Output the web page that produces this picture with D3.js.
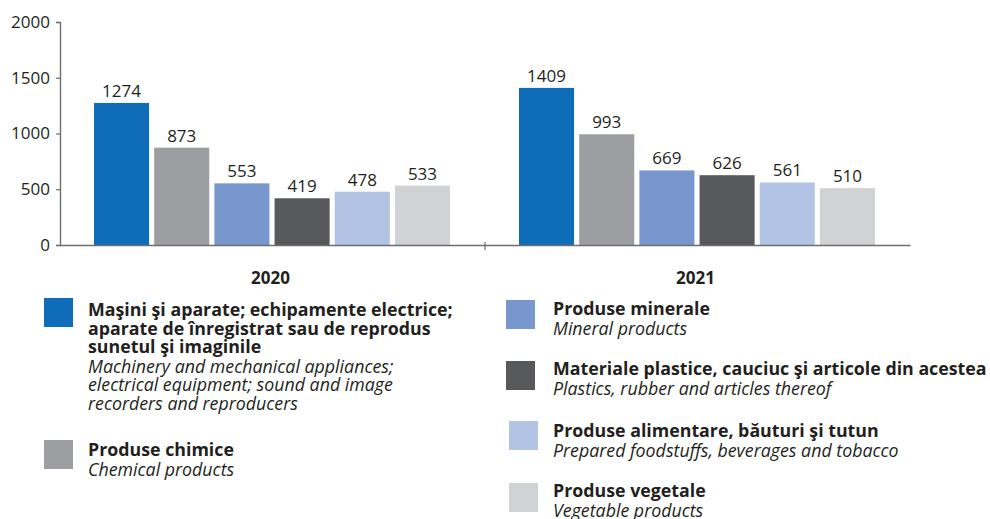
<!DOCTYPE html>
<html>
<head>
<meta charset="utf-8">
<script src="https://cdn.jsdelivr.net/npm/d3@7"></script>
<style>
  html, body { margin: 0; padding: 0; background: #fff; }
  svg { display: block; font-family: "Open Sans", sans-serif; }
</style>
</head>
<body>
<svg id="chart" width="990" height="519"></svg>
<script>
// ---- data ----
const years = ["2020", "2021"];
const seriesKeys = ["masini", "chimice", "minerale", "plastice", "alimentare", "vegetale"];
const values2020 = [1274, 873, 553, 419, 478, 533];
const values2021 = [1409, 993, 669, 626, 561, 510];
const yTicks = [0, 500, 1000, 1500, 2000];
const colors = ["#0f6cb8", "#9d9ea2", "#7897cf", "#58595b", "#b3c3e3", "#d1d2d4"];
const legendRo = [
  ["Maşini şi aparate; echipamente electrice;", "aparate de înregistrat sau de reprodus", "sunetul şi imaginile"],
  ["Produse chimice"],
  ["Produse minerale"],
  ["Materiale plastice, cauciuc şi articole din acestea"],
  ["Produse alimentare, băuturi şi tutun"],
  ["Produse vegetale"]
];
const legendEn = [
  ["Machinery and mechanical appliances;", "electrical equipment; sound and image", "recorders and reproducers"],
  ["Chemical products"],
  ["Mineral products"],
  ["Plastics, rubber and articles thereof"],
  ["Prepared foodstuffs, beverages and tobacco"],
  ["Vegetable products"]
];

const valuesByYear = [values2020, values2021];
const textColor = "#231f20";
const axisColor = "#6d6e71";

const svg = d3.select("#chart");

const x0 = d3.scaleBand().domain(years).range([60, 910]).padding(0);
const x1 = d3.scaleBand().domain(seriesKeys).range([34, 390]).paddingInner(0.085).paddingOuter(0);
const y = d3.scaleLinear().domain([0, 2000]).range([245, 22]);

// y axis
const yAxis = svg.append("g")
  .attr("transform", "translate(60,0)")
  .call(d3.axisLeft(y).tickValues(yTicks).tickSize(4).tickPadding(6).tickFormat(d3.format("d")));
yAxis.select(".domain").attr("stroke", axisColor).attr("stroke-width", 1.4);
yAxis.selectAll(".tick line").attr("stroke", axisColor).attr("stroke-width", 1.2);
yAxis.selectAll(".tick text").attr("fill", textColor).attr("font-size", 17).attr("font-family", "'Open Sans', sans-serif");

// bars
const groups = svg.append("g").selectAll("g")
  .data(years)
  .join("g")
  .attr("transform", d => `translate(${x0(d)},0)`);

groups.selectAll("rect")
  .data((d, i) => seriesKeys.map((k, j) => ({ key: k, value: valuesByYear[i][j], color: colors[j] })))
  .join("rect")
  .attr("x", d => x1(d.key))
  .attr("y", d => y(d.value))
  .attr("width", x1.bandwidth())
  .attr("height", d => y(0) - y(d.value))
  .attr("fill", d => d.color);

groups.selectAll("text.val")
  .data((d, i) => seriesKeys.map((k, j) => ({ key: k, value: valuesByYear[i][j] })))
  .join("text")
  .attr("class", "val")
  .attr("x", d => x1(d.key) + x1.bandwidth() / 2)
  .attr("y", d => y(d.value) - 6)
  .attr("text-anchor", "middle")
  .attr("font-size", 17)
  .attr("fill", textColor)
  .text(d => d.value);

// x axis
const xAxis = svg.append("g")
  .attr("transform", "translate(0,245)")
  .call(d3.axisBottom(x0).tickSize(0).tickFormat(""));
xAxis.select(".domain").attr("stroke", axisColor).attr("stroke-width", 1.4);
// separator tick between groups
svg.append("line")
  .attr("x1", x0("2021")).attr("x2", x0("2021"))
  .attr("y1", 242).attr("y2", 250)
  .attr("stroke", axisColor).attr("stroke-width", 1.2);

// year labels
svg.append("g").selectAll("text")
  .data(years)
  .join("text")
  .attr("x", d => x0(d) + x0.bandwidth() / 2 - 2)
  .attr("y", 284)
  .attr("text-anchor", "middle")
  .attr("font-size", 17)
  .attr("font-weight", "bold")
  .attr("fill", textColor)
  .text(d => d);

// legend
const legendPos = [
  { sx: 44, sy: 298, tx: 88, ty: 316 },
  { sx: 44, sy: 440, tx: 88, ty: 456 },
  { sx: 506, sy: 300, tx: 553, ty: 315 },
  { sx: 506, sy: 361, tx: 553, ty: 375 },
  { sx: 509, sy: 421, tx: 553, ty: 437 },
  { sx: 509, sy: 483, tx: 553, ty: 497 }
];
const lineH = 18.6;
const legend = svg.append("g");
seriesKeys.forEach((k, i) => {
  const p = legendPos[i];
  legend.append("rect")
    .attr("x", p.sx).attr("y", p.sy).attr("width", 29).attr("height", 29)
    .attr("fill", colors[i]);
  const t = legend.append("text").attr("fill", textColor).attr("font-size", 17.8);
  legendRo[i].forEach((line, li) => {
    t.append("tspan").attr("x", p.tx).attr("y", p.ty + li * lineH)
      .attr("font-weight", "bold").text(line);
  });
  const off = legendRo[i].length;
  legendEn[i].forEach((line, li) => {
    t.append("tspan").attr("x", p.tx).attr("y", p.ty + (off + li) * lineH + 1)
      .attr("font-style", "italic").text(line);
  });
});
</script>
</body>
</html>
